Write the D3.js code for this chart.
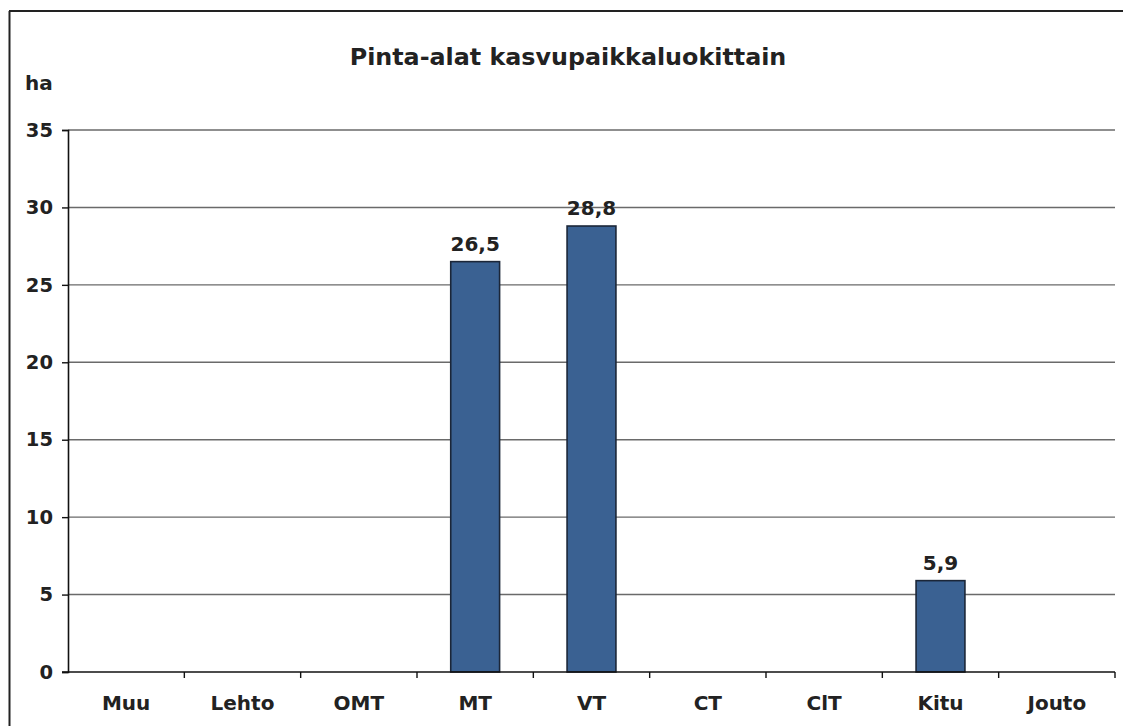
<!DOCTYPE html>
<html>
<head>
<meta charset="utf-8">
<script src="https://cdn.jsdelivr.net/npm/d3@7"></script>
<style>
  html, body { margin: 0; padding: 0; background: #fff; }
  svg { display: block; }
  text { font-family: "DejaVu Sans", Verdana, sans-serif; font-weight: bold; fill: #222; }
</style>
</head>
<body>
<svg id="chart" width="1123" height="726"></svg>
<script>
const categories = ["Muu", "Lehto", "OMT", "MT", "VT", "CT", "ClT", "Kitu", "Jouto"];
const values = [0, 0, 0, 26.5, 28.8, 0, 0, 5.9, 0];
const valueLabels = ["", "", "", "26,5", "28,8", "", "", "5,9", ""];
const yTicks = [0, 5, 10, 15, 20, 25, 30, 35];
const title = "Pinta-alat kasvupaikkaluokittain";
const yUnit = "ha";

const svg = d3.select("#chart");
const W = 1123, H = 726;
const mLeft = 68, mRight = 1115, mTop = 130, mBottom = 672;

// frame
svg.append("line").attr("x1", 9).attr("y1", 11).attr("x2", W).attr("y2", 11)
  .attr("stroke", "#222").attr("stroke-width", 2);
svg.append("line").attr("x1", 9.5).attr("y1", 11).attr("x2", 9.5).attr("y2", H)
  .attr("stroke", "#222").attr("stroke-width", 2);

const x = d3.scaleBand().domain(categories).range([mLeft, mRight]).paddingInner(0.58).paddingOuter(0.29);
const xb = d3.scaleBand().domain(categories).range([mLeft, mRight]);
const y = d3.scaleLinear().domain([0, 35]).range([mBottom, mTop]);

// gridlines
svg.append("g").selectAll("line").data(yTicks.filter(d => d > 0)).join("line")
  .attr("x1", mLeft).attr("x2", mRight)
  .attr("y1", d => y(d)).attr("y2", d => y(d))
  .attr("stroke", "#6a6a6a").attr("stroke-width", 1.4);

// y axis
const yAxis = svg.append("g").attr("transform", `translate(${mLeft},0)`)
  .call(d3.axisLeft(y).tickValues(yTicks).tickSize(6).tickPadding(9).tickFormat(d3.format("d")));
yAxis.select(".domain").attr("stroke", "#111").attr("stroke-width", 1.6);
yAxis.selectAll(".tick line").attr("stroke", "#111").attr("stroke-width", 1.4);
yAxis.selectAll("text").attr("font-size", 19.5).attr("fill", "#222")
  .style("font-family", '"DejaVu Sans", Verdana, sans-serif').style("font-weight", "bold");

const rows = categories.map((c, i) => ({c, v: values[i], l: valueLabels[i]})).filter(d => d.v > 0);

// bars
svg.append("g").selectAll("rect").data(rows)
  .join("rect")
  .attr("x", d => x(d.c)).attr("width", x.bandwidth())
  .attr("y", d => y(d.v)).attr("height", d => y(0) - y(d.v))
  .attr("fill", "#3a6192").attr("stroke", "#1b2638").attr("stroke-width", 1.6);

// value labels
svg.append("g").selectAll("text").data(rows)
  .join("text")
  .attr("x", d => x(d.c) + x.bandwidth() / 2).attr("y", d => y(d.v) - 11)
  .attr("text-anchor", "middle").attr("font-size", 20).text(d => d.l);

// x axis
const xAxisG = svg.append("g").attr("transform", `translate(0,${mBottom})`);
xAxisG.append("line").attr("x1", mLeft - 6).attr("x2", mRight).attr("y1", 0).attr("y2", 0)
  .attr("stroke", "#111").attr("stroke-width", 1.6);
const bounds = categories.map(c => xb(c)).concat([mRight]);
xAxisG.selectAll("line.t").data(bounds.slice(1)).join("line").attr("class", "t")
  .attr("x1", d => d).attr("x2", d => d).attr("y1", 0).attr("y2", 6)
  .attr("stroke", "#111").attr("stroke-width", 1.4);
xAxisG.selectAll("text").data(categories).join("text")
  .attr("x", d => xb(d) + xb.bandwidth() / 2).attr("y", 38)
  .attr("text-anchor", "middle").attr("font-size", 20).text(d => d);

// title and unit
svg.append("text").attr("x", 568).attr("y", 65).attr("text-anchor", "middle")
  .attr("font-size", 23.8).text(title);
svg.append("text").attr("x", 25).attr("y", 90).attr("font-size", 20).text(yUnit);
</script>
</body>
</html>
